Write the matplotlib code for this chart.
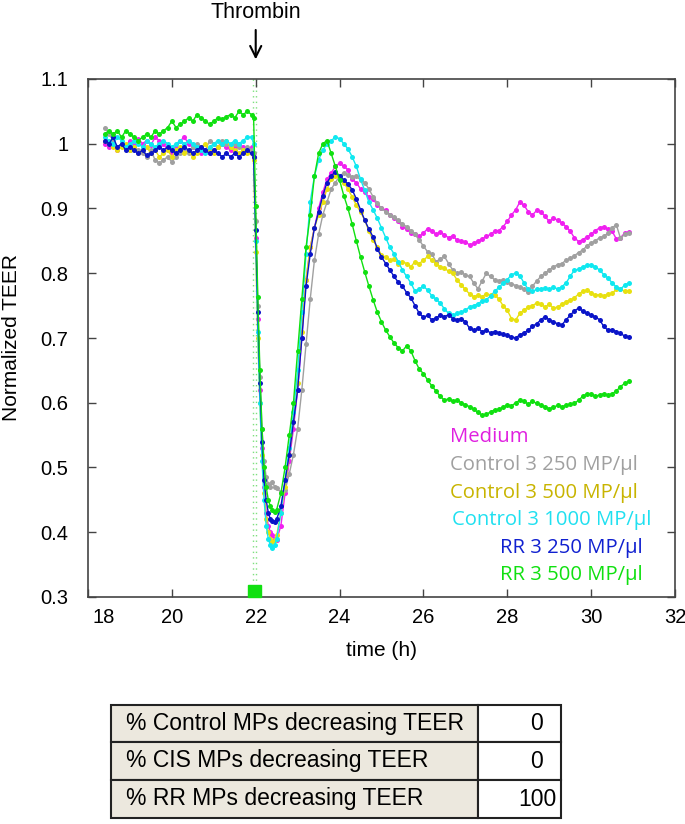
import numpy as np
import matplotlib
matplotlib.use('Agg')
import matplotlib.pyplot as plt
import matplotlib.transforms as mtransforms
from matplotlib.patches import Rectangle

# measurement times (h): every 0.1 h, every 0.05 h around the thrombin drop
t_pre = np.arange(18.4, 21.95, 0.1)
t_drop = np.arange(21.95, 22.51, 0.05)
t_post = np.arange(22.6, 30.95, 0.1)
time_h = np.round(np.concatenate([t_pre, t_drop, t_post]), 2)

labels = ['Medium', 'Control 3 250 MP/\u03bcl', 'Control 3 500 MP/\u03bcl',
          'Control 3 1000 MP/\u03bcl', 'RR 3 250 MP/\u03bcl', 'RR 3 500 MP/\u03bcl']
line_colors = ['#f020f0', '#a0a0a0', '#e8e010', '#10e8f0', '#0a14c8', '#10e010']
text_colors = ['#e020e0', '#a0a0a0', '#c8b400', '#20e0f0', '#1020d0', '#10e010']

medium = [
    1.0, 0.995, 1.005, 0.99, 1.0, 0.995, 1.005, 1.0, 1.008, 1.0, 1.005, 0.998, 1.01, 1.005, 1.0, 0.99, 0.985, 0.995,
    1.005, 1.01, 1.0, 0.995, 0.99, 0.985, 0.99, 0.985, 0.99, 0.995, 1.0, 0.995, 0.99, 0.995, 1.0, 0.995, 0.99, 0.995,
    0.98, 0.855, 0.73, 0.62, 0.53, 0.47, 0.43, 0.41, 0.40, 0.395, 0.39, 0.388,
    0.41, 0.46, 0.51, 0.56, 0.62, 0.70, 0.79, 0.84, 0.87, 0.90, 0.925, 0.945, 0.955, 0.965, 0.97,
    0.965, 0.96, 0.945, 0.94, 0.93, 0.925, 0.918, 0.915, 0.905, 0.9, 0.898, 0.89, 0.885, 0.88, 0.872, 0.868, 0.862,
    0.86, 0.857, 0.862, 0.869, 0.866, 0.86, 0.864, 0.859, 0.855, 0.858, 0.851, 0.85, 0.848, 0.844, 0.846, 0.85,
    0.853, 0.857, 0.86, 0.865, 0.866, 0.872, 0.88, 0.89, 0.898, 0.91, 0.905, 0.895, 0.89, 0.897, 0.895, 0.888,
    0.88, 0.885, 0.882, 0.878, 0.872, 0.865, 0.855, 0.849, 0.852, 0.856, 0.86, 0.866, 0.87, 0.872, 0.868, 0.865,
    0.853, 0.855, 0.862, 0.864]

control_250 = [
    1.025, 1.015, 1.005, 0.995, 1.0, 0.995, 0.99, 0.995, 0.99, 0.985, 0.98, 0.99, 0.975, 0.97, 0.975, 0.98, 0.972, 0.98,
    0.985, 0.99, 0.985, 0.995, 1.0, 0.995, 0.99, 1.005, 1.0, 0.995, 1.005, 1.0, 0.995, 1.0, 0.995, 0.99, 0.995, 0.99,
    0.985, 0.88, 0.75, 0.64, 0.56, 0.51, 0.485, 0.475, 0.47, 0.478, 0.47, 0.468,
    0.462, 0.465, 0.49, 0.52, 0.56, 0.62, 0.69, 0.76, 0.82, 0.86, 0.89, 0.91, 0.93, 0.94, 0.95,
    0.955, 0.952, 0.949, 0.95, 0.944, 0.94, 0.93, 0.918, 0.908, 0.9, 0.895, 0.89, 0.887, 0.882, 0.876, 0.872, 0.866,
    0.86, 0.851, 0.842, 0.833, 0.83, 0.818, 0.822, 0.826, 0.815, 0.805, 0.8, 0.802, 0.797, 0.795, 0.785, 0.776,
    0.788, 0.8, 0.795, 0.79, 0.788, 0.79, 0.786, 0.784, 0.781, 0.779, 0.776, 0.771, 0.78, 0.788, 0.795, 0.8,
    0.805, 0.81, 0.813, 0.815, 0.82, 0.823, 0.827, 0.832, 0.836, 0.842, 0.847, 0.85, 0.855, 0.857, 0.862, 0.87,
    0.875, 0.854, 0.86, 0.862]

control_500 = [
    1.005, 1.0, 0.995, 0.99, 0.995, 1.0, 0.99, 0.995, 0.985, 0.99, 0.995, 0.985, 0.99, 0.98, 0.985, 0.99, 0.98, 0.99,
    0.995, 0.985, 0.99, 0.98, 0.985, 0.995, 1.0, 0.99, 0.985, 0.995, 1.0, 1.005, 0.995, 0.99, 0.985, 0.99, 0.985, 0.985,
    0.975, 0.833, 0.70, 0.60, 0.52, 0.46, 0.42, 0.40, 0.39, 0.385, 0.388, 0.395,
    0.43, 0.47, 0.52, 0.57, 0.63, 0.71, 0.79, 0.84, 0.87, 0.89, 0.91, 0.93, 0.945, 0.95, 0.947,
    0.94, 0.93, 0.918, 0.905, 0.895, 0.882, 0.865, 0.851, 0.84, 0.828, 0.825, 0.82, 0.822, 0.815, 0.818, 0.815, 0.81,
    0.818, 0.815, 0.82, 0.826, 0.82, 0.815, 0.81, 0.808, 0.803, 0.8, 0.79, 0.782, 0.775, 0.768, 0.764, 0.766,
    0.764, 0.768, 0.766, 0.767, 0.76, 0.75, 0.743, 0.73, 0.728, 0.738, 0.743, 0.748, 0.75, 0.754, 0.752, 0.748,
    0.752, 0.746, 0.748, 0.752, 0.756, 0.759, 0.762, 0.768, 0.772, 0.774, 0.77, 0.766, 0.767, 0.765, 0.768, 0.769,
    0.775, 0.776, 0.772, 0.773]

control_1000 = [
    1.01, 1.005, 1.0, 1.01, 1.005, 0.995, 1.0, 1.005, 1.0, 0.995, 1.005, 1.0, 0.995, 1.0, 1.005, 1.0, 0.995, 1.0,
    1.005, 1.0, 1.005, 1.0, 0.995, 0.99, 0.985, 0.995, 1.0, 1.005, 1.0, 1.005, 1.0, 1.005, 1.0, 1.005, 1.01, 1.01,
    1.0, 0.85, 0.71, 0.60, 0.51, 0.45, 0.41, 0.39, 0.38, 0.376, 0.38, 0.39,
    0.43, 0.48, 0.53, 0.585, 0.65, 0.74, 0.83, 0.91, 0.95, 0.975, 0.99, 1.0, 1.005, 1.01, 1.008,
    1.0, 0.992, 0.98, 0.965, 0.945, 0.928, 0.91, 0.898, 0.885, 0.87, 0.855, 0.84, 0.83, 0.818, 0.805, 0.795, 0.785,
    0.772, 0.776, 0.78, 0.774, 0.765, 0.76, 0.754, 0.745, 0.738, 0.735, 0.738, 0.74, 0.743, 0.748, 0.75, 0.753,
    0.757, 0.759, 0.765, 0.772, 0.778, 0.785, 0.79, 0.798, 0.8, 0.796, 0.785, 0.775, 0.772, 0.775, 0.776, 0.777,
    0.775, 0.778, 0.776, 0.779, 0.785, 0.795, 0.805, 0.806, 0.81, 0.812, 0.813, 0.81, 0.805, 0.798, 0.793, 0.785,
    0.779, 0.775, 0.782, 0.785]

rr_250 = [
    1.005, 1.0, 1.01, 0.995, 1.0, 0.99, 0.995, 0.99, 0.985, 0.99, 0.982, 0.985, 0.99, 0.995, 0.99, 0.995, 0.99, 0.985,
    0.99, 0.995, 0.99, 0.985, 0.99, 0.995, 0.99, 0.985, 0.99, 0.985, 0.98, 0.985, 0.98, 0.985, 0.98, 0.985, 0.99, 0.985,
    0.98, 0.867, 0.74, 0.63, 0.54, 0.48, 0.45, 0.43, 0.42, 0.418, 0.416, 0.42,
    0.44, 0.48, 0.52, 0.57, 0.62, 0.70, 0.78, 0.83, 0.87, 0.895, 0.92, 0.94, 0.95, 0.957, 0.95,
    0.944, 0.938, 0.929, 0.915, 0.898, 0.882, 0.868, 0.856, 0.838, 0.825, 0.815, 0.805, 0.795, 0.786, 0.78, 0.77, 0.762,
    0.75, 0.738, 0.732, 0.735, 0.728, 0.731, 0.735, 0.733, 0.736, 0.73, 0.728, 0.73, 0.725, 0.715, 0.712, 0.715,
    0.71, 0.712, 0.708, 0.71, 0.708, 0.706, 0.704, 0.702, 0.7, 0.705, 0.708, 0.712, 0.718, 0.722, 0.728, 0.733,
    0.728, 0.725, 0.722, 0.72, 0.728, 0.735, 0.742, 0.746, 0.742, 0.738, 0.735, 0.733, 0.728, 0.718, 0.712, 0.713,
    0.71, 0.707, 0.703, 0.702]

rr_500 = [
    1.015, 1.02, 1.015, 1.02, 1.01, 1.02, 1.015, 1.01, 1.005, 1.01, 1.015, 1.01, 1.02, 1.015, 1.02, 1.025, 1.035, 1.025,
    1.03, 1.035, 1.04, 1.035, 1.045, 1.04, 1.035, 1.03, 1.035, 1.04, 1.038, 1.042, 1.045, 1.04, 1.05, 1.045, 1.05, 1.045,
    1.04, 0.904, 0.763, 0.65, 0.56, 0.50, 0.47, 0.45, 0.44, 0.435, 0.432, 0.435,
    0.46, 0.50, 0.55, 0.60, 0.68, 0.76, 0.84, 0.89, 0.95, 0.985, 1.0, 1.005, 0.985, 0.965, 0.944,
    0.92, 0.9, 0.876, 0.85, 0.825, 0.802, 0.78, 0.759, 0.74, 0.725, 0.712, 0.702, 0.692, 0.685, 0.68, 0.688, 0.68,
    0.665, 0.652, 0.645, 0.635, 0.626, 0.618, 0.61, 0.604, 0.606, 0.603, 0.604, 0.6, 0.597, 0.594, 0.59, 0.585,
    0.581, 0.582, 0.586, 0.589, 0.59, 0.593, 0.597, 0.595, 0.6, 0.604, 0.602, 0.598, 0.602, 0.599, 0.596, 0.594,
    0.591, 0.593, 0.596, 0.594, 0.596, 0.598, 0.599, 0.604, 0.61, 0.614, 0.613, 0.61, 0.612, 0.614, 0.612, 0.614,
    0.618, 0.625, 0.63, 0.633]

series = [medium, control_250, control_500, control_1000, rr_250, rr_500]

thrombin_time = 22.0
table_rows = ['% Control MPs decreasing TEER', '% CIS MPs decreasing TEER', '% RR MPs decreasing TEER']
table_values = ['0', '0', '100']

W, H = 685, 824
fig = plt.figure(figsize=(W / 100, H / 100), dpi=100)
ax = fig.add_axes([88 / W, 1 - 597 / H, (675 - 88) / W, (597 - 79) / H])

# thrombin addition markers
ax.axvline(21.93, color='#7ee07e', lw=1.0, ls=(0, (1, 3)), zorder=1)
ax.axvline(thrombin_time, color='#7ee07e', lw=1.0, ls=(0, (1, 3)), zorder=1)
ax.add_patch(Rectangle((21.82, 0.3), 0.3, 0.018, color='#10e010', clip_on=False, zorder=5))

for vals, col in zip(series, line_colors):
    ax.plot(time_h, vals, '-o', color=col, lw=1.0, ms=3.6, mew=0, zorder=3)

ax.set_xlim(18, 32)
ax.set_ylim(0.3, 1.1)
ax.set_xticks(np.arange(18, 33, 2))
ax.set_yticks(np.round(np.arange(0.3, 1.11, 0.1), 1))
ax.set_yticklabels(['0.3', '0.4', '0.5', '0.6', '0.7', '0.8', '0.9', '1', '1.1'])
ax.tick_params(direction='in', length=6, width=1, color='#444444', top=True, right=True,
               labelsize=14.5, pad=8)
ax.tick_params(axis='y', pad=14)
for sp in ax.spines.values():
    sp.set_color('#444444')
    sp.set_linewidth(1.2)
for lab in ax.get_xticklabels() + ax.get_yticklabels():
    lab.set_family('Liberation Sans')
first = ax.get_xticklabels()[0]
first.set_transform(first.get_transform() + mtransforms.ScaledTranslation(0.16, 0, fig.dpi_scale_trans))

ax.set_xlabel('time (h)', family='Liberation Sans', fontsize=15, labelpad=10)
ax.set_ylabel('Normalized TEER', family='Liberation Sans', fontsize=15, labelpad=14)

# thrombin arrow
ax.annotate('', xy=(thrombin_time, 1.126), xytext=(thrombin_time, 1.18),
            arrowprops=dict(arrowstyle='->', lw=1.5, color='black', mutation_scale=20),
            annotation_clip=False)
ax.text(thrombin_time, 1.203, 'Thrombin', ha='center', va='center', family='Liberation Sans',
        fontsize=15.5, clip_on=False)

# colour legend
legend_x = [450, 450, 450, 452, 500, 500]
legend_y = [437, 465, 493, 520, 548, 575]
for txt, col, lx, ly in zip(labels, text_colors, legend_x, legend_y):
    fig.text(lx / W, 1 - ly / H, txt, color=col, family=['Open Sans', 'DejaVu Sans'],
             fontsize=14.6, ha='left', va='center')

# summary table drawn in pixel space
tab = fig.add_axes([0, 0, 1, 1])
tab.set_xlim(0, W)
tab.set_ylim(H, 0)
tab.axis('off')
row_top = [705, 742, 780]
row_h = [37, 38, 38]
for rt, rh, name, val in zip(row_top, row_h, table_rows, table_values):
    tab.add_patch(Rectangle((111, rt), 367, rh, facecolor='#ece8de', edgecolor='#222222', lw=1.5))
    tab.add_patch(Rectangle((478, rt), 83, rh, facecolor='white', edgecolor='#222222', lw=1.5))
    tab.text(126, rt + rh / 2, name, ha='left', va='center', family='Liberation Sans', fontsize=16.5)
    tab.text(537, rt + rh / 2, val, ha='center', va='center', family='Liberation Sans', fontsize=16.5)

fig.savefig('out.png', dpi=100)
